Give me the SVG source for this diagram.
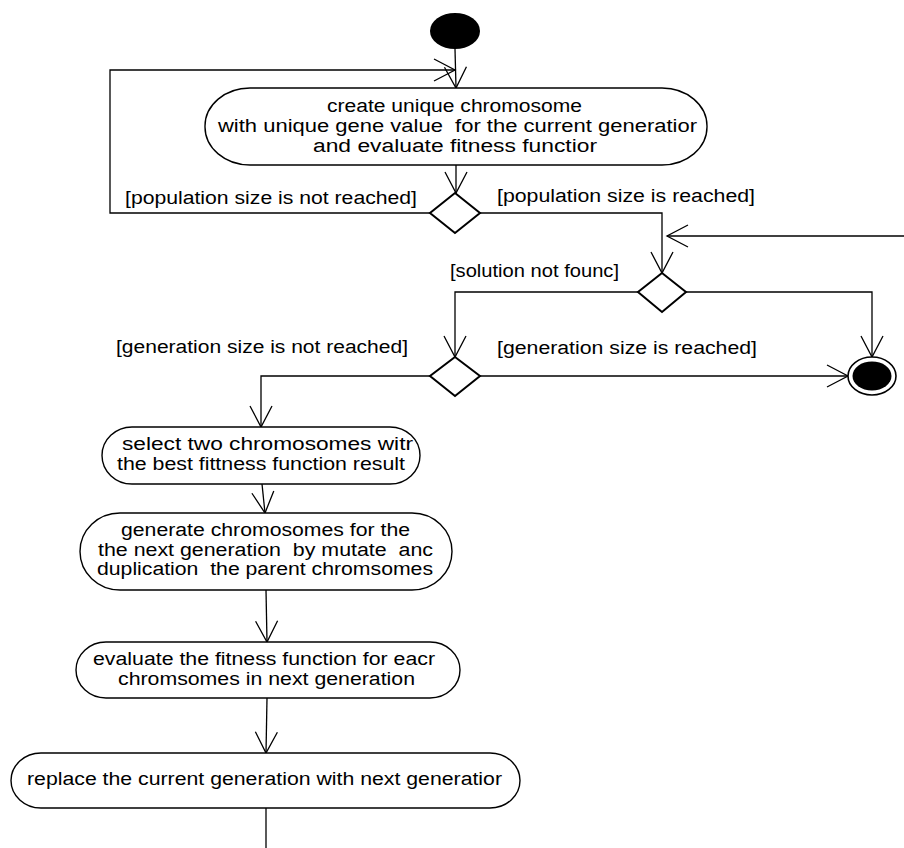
<svg xmlns="http://www.w3.org/2000/svg" width="904" height="848" viewBox="0 0 904 848" xml:space="preserve">
<defs>
<style>
.n{fill:#fff;stroke:#000;stroke-width:1.4}
.d{fill:#fff;stroke:#000;stroke-width:2}
.c{fill:none;stroke:#000;stroke-width:1.3}
text{font-family:"Liberation Sans",Arial,sans-serif;font-size:18px;fill:#000;white-space:pre}
</style>
<marker id="ah" markerUnits="userSpaceOnUse" markerWidth="30" markerHeight="30" viewBox="-25 -15 30 30" refX="0" refY="0" orient="auto">
<path d="M-21,-11 L0,0 L-21,11" fill="none" stroke="#000" stroke-width="1.3"/>
</marker>
</defs>
<rect width="904" height="848" fill="#fff"/>
<g id="connectors">
<path class="c" d="M455,49 L456,88" marker-end="url(#ah)"/>
<path class="c" d="M430,213 H110 V70 H455" marker-end="url(#ah)"/>
<path class="c" d="M456,165 V193" marker-end="url(#ah)"/>
<path class="c" d="M480,213 H662 V273" marker-end="url(#ah)"/>
<path class="c" d="M904,236 H667" marker-end="url(#ah)"/>
<path class="c" d="M638,292 H455 V357" marker-end="url(#ah)"/>
<path class="c" d="M686,292 H872 V357" marker-end="url(#ah)"/>
<path class="c" d="M480,376 H848" marker-end="url(#ah)"/>
<path class="c" d="M430,376 H261 V427" marker-end="url(#ah)"/>
<path class="c" d="M262,484 L265,513" marker-end="url(#ah)"/>
<path class="c" d="M266,590 L267,642" marker-end="url(#ah)"/>
<path class="c" d="M267,698 L266,753" marker-end="url(#ah)"/>
<path class="c" d="M266,808 V848"/>
<text x="125" y="204" textLength="292" lengthAdjust="spacingAndGlyphs">[population size is not reached]</text>
<text x="497" y="202" textLength="258" lengthAdjust="spacingAndGlyphs">[population size is reached]</text>
<text x="450" y="277" textLength="169" lengthAdjust="spacingAndGlyphs">[solution not founc]</text>
<text x="116" y="353" textLength="292" lengthAdjust="spacingAndGlyphs">[generation size is not reached]</text>
<text x="497" y="354" textLength="260" lengthAdjust="spacingAndGlyphs">[generation size is reached]</text>
</g>
<g id="start">
<ellipse cx="455" cy="31" rx="25" ry="18" fill="#000"/>
</g>
<g id="a1">
<rect class="n" x="205" y="88" width="502" height="77" rx="45" ry="38"/>
<text x="327" y="112" textLength="255" lengthAdjust="spacingAndGlyphs">create unique chromosome</text>
<text x="218" y="132" textLength="479" lengthAdjust="spacingAndGlyphs">with unique gene value  for the current generatior</text>
<text x="313" y="152" textLength="284" lengthAdjust="spacingAndGlyphs">and evaluate fitness functior</text>
</g>
<g id="d1"><polygon class="d" points="455,193 480,213 455,233 430,213"/></g>
<g id="d2"><polygon class="d" points="662,273 686,292 662,312 638,292"/></g>
<g id="d3"><polygon class="d" points="455,357 480,376 455,396 430,376"/></g>
<g id="end">
<ellipse cx="872" cy="376" rx="24" ry="19" fill="#fff" stroke="#000" stroke-width="1.6"/>
<ellipse cx="872" cy="376" rx="19.5" ry="14.5" fill="#000"/>
</g>
<g id="a2">
<rect class="n" x="102" y="427" width="318" height="57" rx="30" ry="28.5"/>
<text x="122" y="450" textLength="291" lengthAdjust="spacingAndGlyphs">select two chromosomes witr</text>
<text x="117" y="470" textLength="288" lengthAdjust="spacingAndGlyphs">the best fittness function result</text>
</g>
<g id="a3">
<rect class="n" x="80" y="513" width="372" height="77" rx="40" ry="38.5"/>
<text x="121" y="536" textLength="289" lengthAdjust="spacingAndGlyphs">generate chromosomes for the</text>
<text x="98" y="556" textLength="335" lengthAdjust="spacingAndGlyphs">the next generation  by mutate  anc</text>
<text x="97" y="575" textLength="336" lengthAdjust="spacingAndGlyphs">duplication  the parent chromsomes</text>
</g>
<g id="a4">
<rect class="n" x="76" y="642" width="384" height="56" rx="30" ry="28"/>
<text x="93" y="665" textLength="342" lengthAdjust="spacingAndGlyphs">evaluate the fitness function for eacr</text>
<text x="118" y="685" textLength="297" lengthAdjust="spacingAndGlyphs">chromsomes in next generation</text>
</g>
<g id="a5">
<rect class="n" x="11" y="753" width="509" height="55" rx="30" ry="27.5"/>
<text x="27" y="785" textLength="475" lengthAdjust="spacingAndGlyphs">replace the current generation with next generatior</text>
</g>
</svg>
